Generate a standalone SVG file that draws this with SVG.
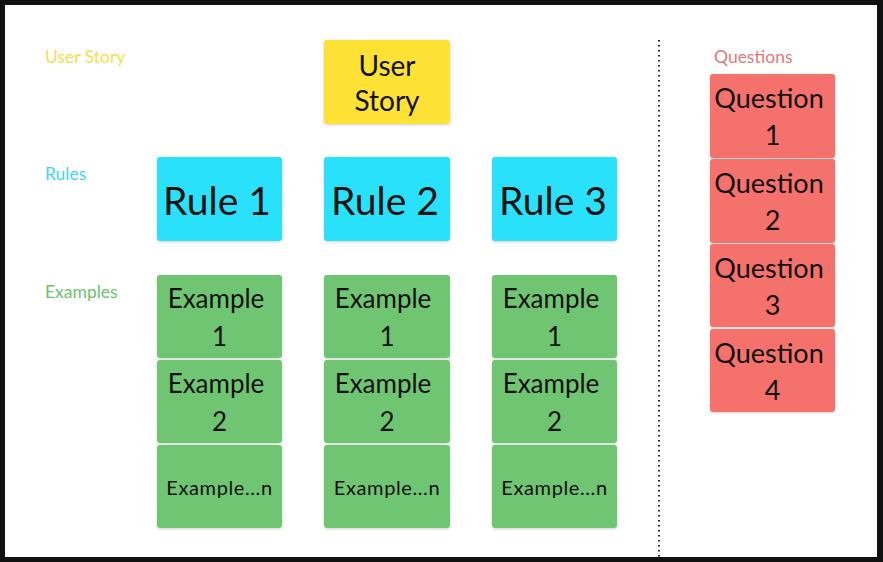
<svg xmlns="http://www.w3.org/2000/svg" width="883" height="562" viewBox="0 0 883 562">
  <defs>
    <filter id="sh" x="-10%" y="-10%" width="120%" height="125%">
      <feDropShadow dx="0" dy="1" stdDeviation="1.5" flood-color="#000" flood-opacity="0.18"/>
    </filter>
    <style>
      .lbl { font-family: Lato, "Open Sans", sans-serif; font-size: 17.5px; }
      .card { filter: url(#sh); }
      .t { font-family: Lato, "Open Sans", sans-serif; fill: #111; text-anchor: middle; }
      .n { font-size: 20px; letter-spacing: 0.6px; }
      .yellow { fill: #fde236; }
      .cyan { fill: #2be1fb; }
      .green { fill: #6fc573; }
      .red { fill: #f4716c; }
    </style>
  </defs>
  <rect x="0" y="0" width="883" height="562" fill="#111"/>
  <rect x="5" y="5" width="872" height="552" fill="#fff"/>

  <g id="labels">
    <text class="lbl" x="45" y="63" fill="#f5e04a">User Story</text>
    <text class="lbl" x="45" y="180" fill="#42d6f2">Rules</text>
    <text class="lbl" x="45" y="298" fill="#6cc26f">Examples</text>
    <text class="lbl" x="714" y="63" fill="#e47a78">Questions</text>
  </g>

  <g id="connectors">
    <line x1="659" y1="40" x2="659" y2="557" stroke="#222" stroke-width="2" stroke-dasharray="1.5 3.5"/>
  </g>

  <g id="user-story">
    <rect class="card yellow" x="324" y="40" width="126" height="84" rx="3"/>
    <text class="t" x="387" y="76" font-size="28">User</text>
    <text class="t" x="387" y="111" font-size="28">Story</text>
  </g>

  <g id="rule-1">
    <rect class="card cyan" x="157" y="157" width="125" height="84" rx="3"/>
    <text class="t" x="217" y="215" font-size="39">Rule 1</text>
  </g>
  <g id="rule-2">
    <rect class="card cyan" x="324" y="157" width="126" height="84" rx="3"/>
    <text class="t" x="385" y="215" font-size="39">Rule 2</text>
  </g>
  <g id="rule-3">
    <rect class="card cyan" x="492" y="157" width="125" height="84" rx="3"/>
    <text class="t" x="553" y="215" font-size="39">Rule 3</text>
  </g>

  <g id="example-1-1">
    <rect class="card green" x="157" y="275" width="125" height="83" rx="3"/>
    <text class="t" x="216" y="308" font-size="26">Example</text>
    <text class="t" x="219.5" y="346" font-size="26">1</text>
  </g>
  <g id="example-1-2">
    <rect class="card green" x="157" y="360" width="125" height="83" rx="3"/>
    <text class="t" x="216" y="393" font-size="26">Example</text>
    <text class="t" x="219.5" y="431" font-size="26">2</text>
  </g>
  <g id="example-1-n">
    <rect class="card green" x="157" y="445" width="125" height="83" rx="3"/>
    <text class="t n" x="219.5" y="495">Example...n</text>
  </g>

  <g id="example-2-1">
    <rect class="card green" x="324" y="275" width="126" height="83" rx="3"/>
    <text class="t" x="383" y="308" font-size="26">Example</text>
    <text class="t" x="387" y="346" font-size="26">1</text>
  </g>
  <g id="example-2-2">
    <rect class="card green" x="324" y="360" width="126" height="83" rx="3"/>
    <text class="t" x="383" y="393" font-size="26">Example</text>
    <text class="t" x="387" y="431" font-size="26">2</text>
  </g>
  <g id="example-2-n">
    <rect class="card green" x="324" y="445" width="126" height="83" rx="3"/>
    <text class="t n" x="387" y="495">Example...n</text>
  </g>

  <g id="example-3-1">
    <rect class="card green" x="492" y="275" width="125" height="83" rx="3"/>
    <text class="t" x="551" y="308" font-size="26">Example</text>
    <text class="t" x="554.5" y="346" font-size="26">1</text>
  </g>
  <g id="example-3-2">
    <rect class="card green" x="492" y="360" width="125" height="83" rx="3"/>
    <text class="t" x="551" y="393" font-size="26">Example</text>
    <text class="t" x="554.5" y="431" font-size="26">2</text>
  </g>
  <g id="example-3-n">
    <rect class="card green" x="492" y="445" width="125" height="83" rx="3"/>
    <text class="t n" x="554.5" y="495">Example...n</text>
  </g>

  <g id="question-1">
    <rect class="card red" x="710" y="74" width="125" height="84" rx="3"/>
    <text class="t" x="769" y="108" font-size="27">Question</text>
    <text class="t" x="772.5" y="145" font-size="27">1</text>
  </g>
  <g id="question-2">
    <rect class="card red" x="710" y="159" width="125" height="84" rx="3"/>
    <text class="t" x="769" y="193" font-size="27">Question</text>
    <text class="t" x="772.5" y="230" font-size="27">2</text>
  </g>
  <g id="question-3">
    <rect class="card red" x="710" y="244" width="125" height="83" rx="3"/>
    <text class="t" x="769" y="278" font-size="27">Question</text>
    <text class="t" x="772.5" y="315" font-size="27">3</text>
  </g>
  <g id="question-4">
    <rect class="card red" x="710" y="329" width="125" height="83" rx="3"/>
    <text class="t" x="769" y="363" font-size="27">Question</text>
    <text class="t" x="772.5" y="400" font-size="27">4</text>
  </g>
</svg>
